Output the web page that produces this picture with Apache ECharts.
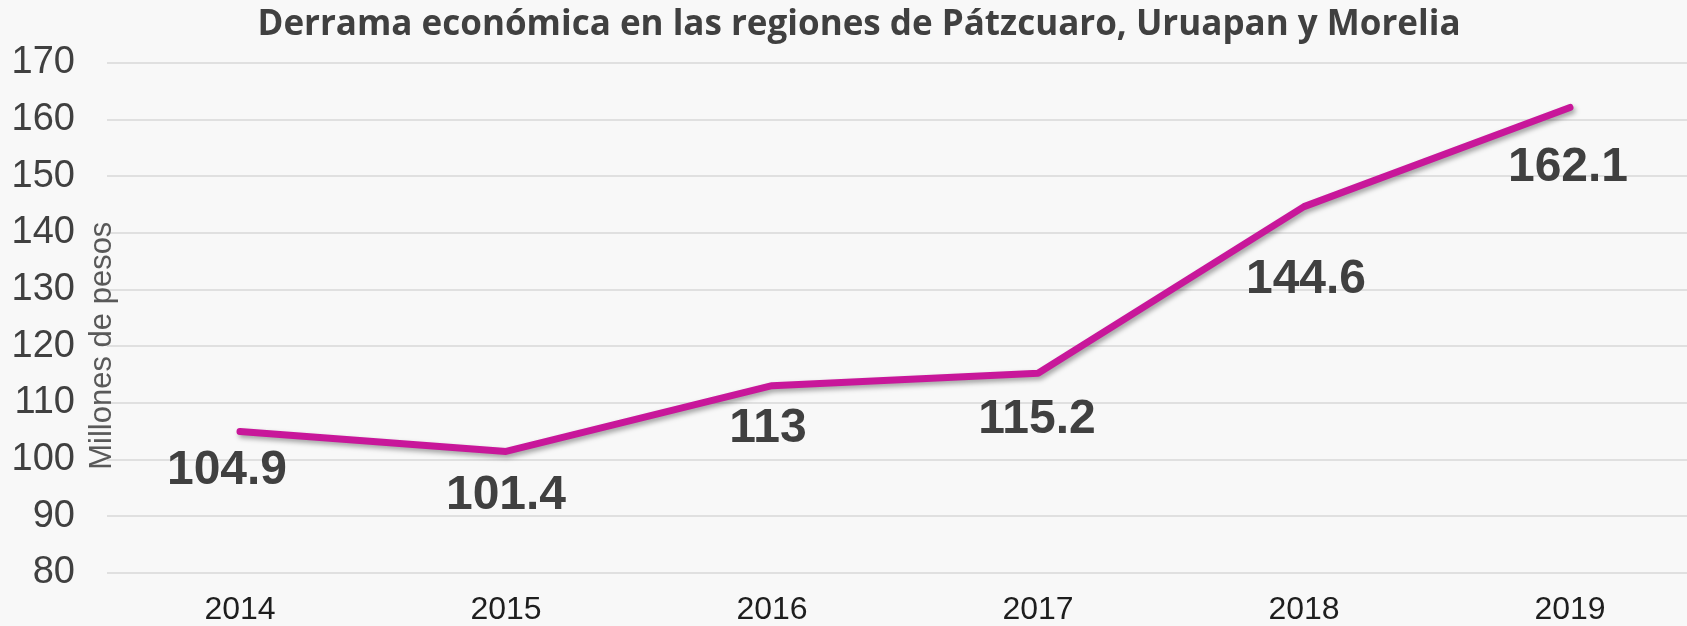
<!DOCTYPE html>
<html>
<head>
<meta charset="utf-8">
<script src="https://cdn.jsdelivr.net/npm/echarts@6/dist/echarts.min.js"></script>
<style>
  html, body { margin: 0; padding: 0; background: #f8f8f8; }
  #chart { width: 1687px; height: 626px; }
</style>
</head>
<body>
<div id="chart"></div>
<script>
// datos
var years = ["2014", "2015", "2016", "2017", "2018", "2019"];
var derrama = [104.9, 101.4, 113, 115.2, 144.6, 162.1];
var yTicks = [80, 90, 100, 110, 120, 130, 140, 150, 160, 170];

// desplazamiento de etiquetas (como en la grafica original)
var labelOffsets = [[-13, 39], [0, 44], [-4, 43], [-1, 47], [2, 73], [-2, 60]];

var myChart = echarts.init(document.getElementById("chart"));

var seriesData = derrama.map(function (v, i) {
  return {
    value: v,
    label: { offset: labelOffsets[i] }
  };
});

myChart.setOption({
  backgroundColor: "#f8f8f8",
  animation: false,
  title: {
    text: "Derrama económica en las regiones de Pátzcuaro, Uruapan y Morelia",
    left: 859,
    textAlign: "center",
    top: 8,
    padding: 0,
    textStyle: {
      fontFamily: "Open Sans",
      fontWeight: "bold",
      fontSize: 35,
      color: "#404040"
    }
  },
  grid: {
    left: 107,
    right: -16,
    top: 62.7,
    bottom: 53.3,
    containLabel: false,
    outerBoundsMode: "none"
  },
  xAxis: {
    type: "category",
    data: years,
    boundaryGap: true,
    axisLine: { show: false },
    axisTick: { show: false },
    axisLabel: {
      margin: 21,
      fontFamily: "Liberation Sans",
      fontSize: 32,
      color: "#1e1e1e"
    }
  },
  yAxis: {
    type: "value",
    min: yTicks[0],
    max: yTicks[yTicks.length - 1],
    interval: 10,
    name: "Millones de pesos",
    nameLocation: "middle",
    nameRotate: 90,
    nameGap: -11,
    nameMoveOverlap: false,
    nameTextStyle: {
      fontFamily: "Liberation Sans",
      fontSize: 31,
      color: "#595959",
      padding: [0, 56, 0, 0]
    },
    axisLine: { show: false },
    axisTick: { show: false },
    axisLabel: {
      margin: 32,
      fontFamily: "Liberation Sans",
      fontSize: 38,
      color: "#404040"
    },
    splitLine: {
      lineStyle: { color: "#d9d9d9", width: 1.5 }
    }
  },
  series: [
    {
      type: "line",
      data: seriesData,
      symbol: "circle",
      symbolSize: 1,
      color: "#C8179A",
      lineStyle: {
        color: "#C8179A",
        width: 7,
        cap: "round",
        join: "round",
        shadowColor: "rgba(0, 0, 0, 0.35)",
        shadowBlur: 5,
        shadowOffsetX: 2,
        shadowOffsetY: 3
      },
      label: {
        show: true,
        position: "inside",
        fontFamily: "Liberation Sans",
        fontWeight: "bold",
        fontSize: 48,
        color: "#404040"
      }
    }
  ]
});
</script>
</body>
</html>
